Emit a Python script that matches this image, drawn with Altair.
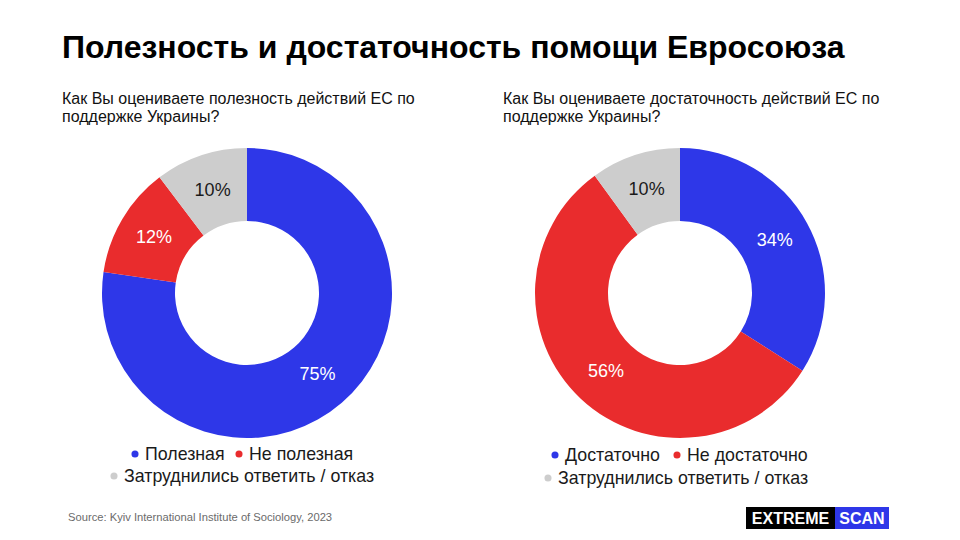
import altair as alt
import pandas as pd

# ---- content ----
title_text = "Полезность и достаточность помощи Евросоюза"
question_left = ["Как Вы оцениваете полезность действий ЕС по", "поддержке Украины?"]
question_right = ["Как Вы оцениваете достаточность действий ЕС по", "поддержке Украины?"]

usefulness_labels = ["Полезная", "Не полезная", "Затруднились ответить / отказ"]
usefulness_values = [75, 12, 10]

sufficiency_labels = ["Достаточно", "Не достаточно", "Затруднились ответить / отказ"]
sufficiency_values = [34, 56, 10]

source_text = "Source: Kyiv International Institute of Sociology, 2023"

# ---- styling / layout ----
palette = ["#2E37E8", "#E92C2D", "#CDCDCD"]
value_text_colors = ["#FFFFFF", "#FFFFFF", "#1A1A1A"]
W, H = 960, 540
CY = 293
CENTERS = [247, 680]
R_OUT, R_IN, R_LABEL = 145, 72, 108
FONT = "Liberation Sans"

rows = []
for panel, (labels, values) in enumerate([(usefulness_labels, usefulness_values),
                                           (sufficiency_labels, sufficiency_values)]):
    for i, (lab, val) in enumerate(zip(labels, values)):
        rows.append({"panel": panel, "order": i, "category": lab, "value": val,
                     "cx": CENTERS[panel], "cy": CY,
                     "color": palette[i], "tcolor": value_text_colors[i]})
df = pd.DataFrame(rows)

base = (
    alt.Chart(df)
    .transform_joinaggregate(total="sum(value)", groupby=["panel"])
    .transform_window(cum="sum(value)", sort=[alt.SortField("order")],
                      groupby=["panel"], frame=[None, 0])
    .transform_calculate(t0="(datum.cum - datum.value) / datum.total * 2 * PI")
    .transform_calculate(t1="datum.cum / datum.total * 2 * PI")
    .transform_calculate(mid="(datum.t0 + datum.t1) / 2")
    .transform_calculate(lx=f"datum.cx + {R_LABEL} * sin(datum.mid)")
    .transform_calculate(ly=f"datum.cy - {R_LABEL} * cos(datum.mid)")
    .transform_calculate(txt="datum.value + '%'")
)

arcs = base.mark_arc(outerRadius=R_OUT, innerRadius=R_IN).encode(
    theta=alt.Theta("t0:Q", scale=None),
    theta2="t1:Q",
    x=alt.X("cx:Q", scale=None),
    y=alt.Y("cy:Q", scale=None),
    color=alt.Color("color:N", scale=None),
)

pct = base.mark_text(font=FONT, fontSize=18, align="center", baseline="middle").encode(
    x=alt.X("lx:Q", scale=None),
    y=alt.Y("ly:Q", scale=None),
    text="txt:N",
    color=alt.Color("tcolor:N", scale=None),
)


def text_layer(text, x, y, size, color="#000000", font=FONT, weight="normal", align="left", baseline="alphabetic"):
    return alt.Chart(pd.DataFrame({"t": [text]})).mark_text(
        font=font, fontSize=size, fontWeight=weight, color=color, align=align, baseline=baseline
    ).encode(x=alt.value(x), y=alt.value(y), text="t:N")


layers = [arcs, pct]

# title and questions
layers.append(text_layer(title_text, 62, 58, 32, weight="bold"))
for qx, lines in [(62, question_left), (503, question_right)]:
    for k, line in enumerate(lines):
        layers.append(text_layer(line, qx, 104 + 18 * k, 16, color="#111111"))

# legends (dot + label), two items on first line, one on second
legend_layout = [
    [(135, 454), (239, 454), (114, 476)],
    [(555, 455), (677, 455), (548, 478)],
]
for panel, labels in enumerate([usefulness_labels, sufficiency_labels]):
    for i, lab in enumerate(labels):
        dx, dy = legend_layout[panel][i]
        layers.append(
            alt.Chart(pd.DataFrame({"c": [palette[i]]})).mark_point(
                shape="circle", filled=True, size=50, opacity=1
            ).encode(x=alt.value(dx), y=alt.value(dy), color=alt.Color("c:N", scale=None))
        )
        layers.append(text_layer(lab, dx + 10, dy + 1, 17.8, color="#1A1A1A", baseline="middle"))

# source
layers.append(text_layer(source_text, 68, 521, 11.2, color="#6B6B6B"))

# logo
logo = pd.DataFrame({"x": [746, 835], "x2": [835, 889], "c": ["#000000", "#2E37E8"]})
layers.append(
    alt.Chart(logo).mark_rect().encode(
        x=alt.X("x:Q", scale=None), x2="x2:Q",
        y=alt.value(507), y2=alt.value(529),
        color=alt.Color("c:N", scale=None),
    )
)
layers.append(text_layer("EXTREME", 790.5, 519, 16, color="#FFFFFF", weight="bold", align="center", baseline="middle"))
layers.append(text_layer("SCAN", 862, 519, 16, color="#FFFFFF", weight="bold", align="center", baseline="middle"))

chart = (
    alt.layer(*layers)
    .properties(width=W, height=H, autosize=alt.AutoSizeParams(type="none"), padding=0,
                background="#FFFFFF")
    .configure_view(stroke=None)
)

chart.save("out.html", embed_options={"renderer": "svg", "actions": False})
